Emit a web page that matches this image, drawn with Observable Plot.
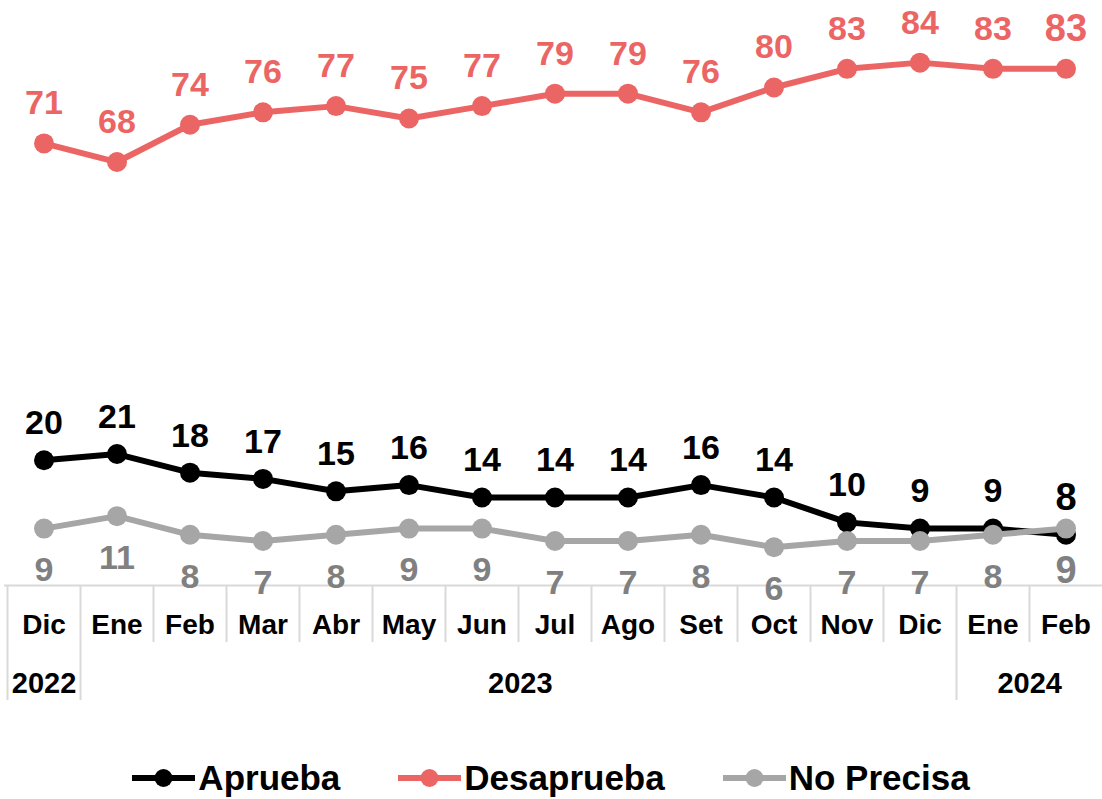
<!DOCTYPE html>
<html><head><meta charset="utf-8">
<script src="https://cdn.jsdelivr.net/npm/d3@7"></script>
<script src="https://cdn.jsdelivr.net/npm/@observablehq/plot@0.6"></script>
<style>
body{margin:0;background:#fff;font-family:"Liberation Sans",Arial,sans-serif;}
#chart svg{display:block;}
#legend{display:flex;justify-content:center;align-items:center;gap:58px;height:89px;padding-left:0px;box-sizing:border-box;padding-top:46px;}
.item{display:flex;align-items:center;gap:3px;font-weight:bold;font-size:35px;color:#000;}
</style></head><body><div id="chart"></div><div id="legend"></div>
<script>
const keys = ["2022-12","2023-01","2023-02","2023-03","2023-04","2023-05","2023-06","2023-07","2023-08","2023-09","2023-10","2023-11","2023-12","2024-01","2024-02"];
const months = ["Dic","Ene","Feb","Mar","Abr","May","Jun","Jul","Ago","Set","Oct","Nov","Dic","Ene","Feb"];
const years = ["2022","2023","2024"];
const yearSpans = [1,12,2];
const aprueba = [20,21,18,17,15,16,14,14,14,16,14,10,9,9,8];
const desaprueba = [71,68,74,76,77,75,77,79,79,76,80,83,84,83,83];
const noPrecisa = [9,11,8,7,8,9,9,7,7,8,6,7,7,8,9];
const seriesNames = ["Aprueba","Desaprueba","No Precisa"];
const lineColors = ["#000000","#EC6565","#A6A6A6"];
const labelColors = ["#000000","#EC6565","#808080"];

const seriesValues = [aprueba, desaprueba, noPrecisa];
const rows = seriesNames.map((s, si) => seriesValues[si].map((v, i) => ({series: s, key: keys[i], value: v, last: i === keys.length - 1})));

const xRange = [4, 1104];
const step = (xRange[1] - xRange[0]) / keys.length;
const FB = 584; // frame bottom
const monthRows = keys.map((k, i) => ({key: k, label: months[i]}));

let start = 0;
const yearMarks = years.map((y, yi) => {
  const first = keys[start];
  const n = yearSpans[yi];
  start += n;
  return Plot.text([y], {x: () => first, text: d => d, frameAnchor: "bottom", dy: 108, dx: (n - 1) * step / 2, fontSize: 29, fontWeight: "bold", fill: "#000"});
});

const yearStarts = [];
{let s = 0; yearSpans.forEach(n => {yearStarts.push(s); s += n;});}

function tableLines(index, scales, values, dimensions) {
  const g = d3.create("svg:g").attr("stroke", "#d9d9d9").attr("stroke-width", 2);
  const bottom = dimensions.height - dimensions.marginBottom;
  keys.forEach((k, i) => {
    const x = Math.round(scales.x(k)) + 0.5;
    const long = yearStarts.includes(i);
    g.append("line").attr("x1", x).attr("x2", x).attr("y1", bottom + 1).attr("y2", bottom + (long ? 116 : 58));
  });
  return g.node();
}

function seriesMarks(si, dy) {
  const data = rows[si];
  return [
    Plot.line(data, {x: "key", y: "value", stroke: lineColors[si], strokeWidth: 6}),
    Plot.dot(data, {x: "key", y: "value", r: 10, fill: lineColors[si], stroke: "none"}),
    Plot.text(data, {x: "key", y: "value", text: d => String(d.value), dy: dy, fill: labelColors[si], fontWeight: "bold", fontSize: d => d.last ? 38 : 34})
  ];
}

const plot = Plot.plot({
  width: 1102,
  height: 710,
  marginTop: 0,
  marginBottom: 710 - FB,
  marginLeft: 4,
  marginRight: 0,
  style: {fontFamily: "'Liberation Sans', Arial, sans-serif", background: "#fff"},
  x: {type: "band", domain: keys, range: xRange, padding: 0, axis: null},
  y: {domain: [0, 94], range: [FB, 0], axis: null},
  marks: [
    Plot.ruleY([0], {stroke: "#d9d9d9", strokeWidth: 2, dy: 1}),
    tableLines,
    Plot.text(monthRows, {x: "key", text: "label", frameAnchor: "bottom", dy: 49, fontSize: 28, fontWeight: "bold", fill: "#000"}),
    ...yearMarks,
    ...seriesMarks(1, -40),
    ...seriesMarks(0, -37),
    ...seriesMarks(2, 42)
  ]
});
document.getElementById("chart").appendChild(plot);

const legend = d3.select("#legend");
seriesNames.forEach((s, si) => {
  const item = legend.append("div").attr("class", "item");
  const sw = item.append("svg").attr("width", 63).attr("height", 24);
  sw.append("line").attr("x1", 0).attr("x2", 63).attr("y1", 12).attr("y2", 12).attr("stroke", lineColors[si]).attr("stroke-width", 6).attr("stroke-linecap", "round");
  sw.append("circle").attr("cx", 31.5).attr("cy", 12).attr("r", 9).attr("fill", lineColors[si]);
  item.append("span").text(s);
});
</script>
</body></html>
